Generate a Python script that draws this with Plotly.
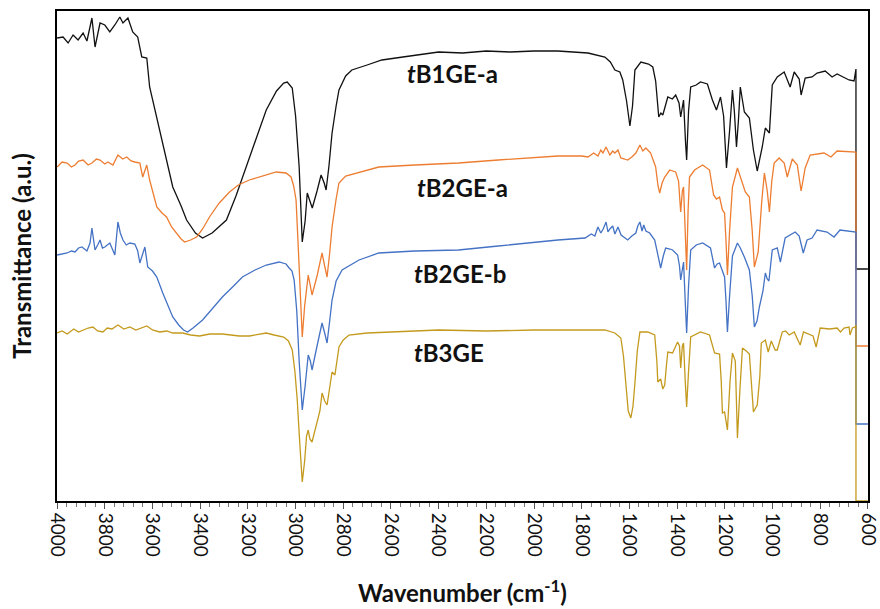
import plotly.graph_objects as go

# ---- data (wavenumber cm-1, transmittance a.u.) ----
wn_b1a = [4000,3975,3954,3933,3912,3891,3875,3854,3841,3820,3800,3779,3758,3737,3724,3703,3683,3662,3645,3624,3612,3582,3557,3515,3480,3457,3420,3390,3350,3290,3250,3206,3160,3123,3080,3050,3035,3014,3000,2985,2972,2960,2951,2940,2930,2910,2893,2880,2872,2860,2847,2830,2818,2790,2764,2700,2638,2550,2480,2400,2300,2200,2100,2000,1900,1800,1774,1703,1680,1661,1640,1628,1612,1598,1587,1577,1552,1520,1502,1490,1477,1468,1460,1439,1420,1406,1392,1385,1373,1365,1360,1352,1343,1320,1302,1273,1252,1235,1218,1205,1193,1180,1168,1160,1151,1143,1135,1118,1097,1080,1064,1043,1030,1013,1001,980,951,926,909,888,880,863,834,813,779,750,729,679,658,650,650,600]
t_b1a = [46.3,46.4,45.8,46.6,46.1,46.8,46.0,48.3,45.4,47.8,47.6,46.9,47.6,48.4,47.8,48.3,46.9,46.4,44.4,44.3,41.4,38.4,35.8,31.4,29.5,28.1,26.8,26.3,26.8,28.1,30.5,33.4,36.6,39.1,41.0,41.8,41.9,41.3,38.5,33.4,25.9,28.0,30.8,30.0,29.3,31.0,32.6,31.8,31.1,33.5,36.8,39.5,41.1,42.5,43.1,43.6,44.1,44.4,44.6,44.9,44.8,45.0,44.9,45.0,45.0,44.9,44.8,44.4,43.9,43.1,42.9,42.1,40.0,37.5,39.5,43.1,43.9,43.7,43.4,42.0,38.4,38.8,38.6,40.4,40.2,40.6,39.8,38.4,40.1,36.0,34.1,39.0,41.4,41.6,41.9,41.7,40.1,39.1,40.4,38.5,33.3,37.0,41.1,39.0,35.4,38.0,41.4,38.9,38.3,35.1,33.0,35.4,37.3,36.8,41.6,42.4,42.9,41.4,42.9,42.2,40.6,42.3,42.4,42.8,43.0,42.4,42.7,42.1,42.0,43.2,23.2,23.2]

wn_b2a = [4000,3979,3958,3940,3925,3910,3891,3870,3854,3835,3820,3800,3787,3766,3745,3725,3708,3690,3674,3653,3641,3624,3612,3582,3560,3541,3520,3499,3480,3465,3440,3415,3390,3361,3320,3277,3240,3194,3140,3081,3040,3027,3019,3008,2998,2988,2980,2972,2962,2947,2938,2931,2910,2889,2878,2868,2857,2847,2830,2818,2790,2747,2651,2500,2317,2150,2037,1900,1800,1774,1750,1732,1720,1711,1698,1682,1670,1661,1648,1636,1620,1607,1590,1573,1556,1544,1531,1520,1511,1490,1480,1473,1463,1452,1431,1406,1394,1385,1378,1373,1365,1360,1354,1348,1327,1293,1264,1247,1235,1222,1210,1201,1195,1189,1180,1168,1147,1135,1114,1097,1085,1076,1060,1045,1034,1022,1013,1003,993,972,951,938,917,896,880,863,842,784,755,729,654,650,650,600]
t_b2a = [33.4,33.9,33.8,33.4,33.6,34.0,34.1,33.6,33.8,34.2,34.1,33.7,33.9,33.6,34.6,34.2,34.4,34.0,33.9,33.8,32.4,33.6,32.1,29.4,28.8,28.4,27.4,26.8,26.2,25.9,26.1,26.4,27.2,28.4,29.8,30.9,31.6,32.1,32.5,32.9,32.8,32.6,32.4,31.5,30.1,25.0,20.0,16.4,19.5,22.6,21.5,20.6,22.5,24.8,23.5,22.4,24.8,27.4,30.2,31.8,32.5,32.8,33.4,33.6,33.8,34.1,34.3,34.5,34.5,34.4,34.8,34.5,35.1,34.8,35.4,34.6,35.0,34.8,35.1,34.3,34.2,34.1,34.4,34.8,35.6,35.0,35.3,35.0,34.8,33.4,31.5,30.8,31.8,32.4,33.1,32.9,32.0,28.9,31.0,31.4,27.0,23.1,29.0,32.4,33.1,33.6,33.1,30.6,30.2,30.4,29.1,28.8,26.0,22.6,27.0,31.4,33.3,32.4,30.9,30.4,27.0,23.4,24.9,30.0,32.8,31.0,28.9,32.0,33.8,34.3,33.8,32.4,34.2,33.6,31.0,33.3,34.6,34.8,34.4,35.0,34.9,34.9,15.5,15.5]

wn_b2b = [4000,3979,3958,3940,3925,3910,3896,3875,3862,3854,3841,3830,3820,3810,3800,3779,3766,3758,3745,3735,3724,3710,3695,3674,3662,3653,3632,3620,3600,3582,3557,3535,3515,3490,3470,3453,3430,3390,3350,3307,3260,3223,3170,3123,3069,3040,3027,3015,3006,2995,2985,2972,2960,2947,2938,2931,2910,2889,2878,2868,2857,2847,2830,2805,2734,2651,2500,2317,2150,2037,1900,1786,1760,1745,1732,1720,1710,1698,1690,1682,1670,1661,1648,1635,1620,1607,1590,1573,1565,1556,1547,1540,1531,1515,1494,1480,1469,1458,1448,1430,1419,1398,1390,1385,1378,1373,1366,1360,1352,1343,1320,1293,1260,1243,1232,1222,1210,1201,1195,1189,1180,1168,1147,1135,1118,1097,1085,1076,1065,1055,1040,1030,1022,1015,1001,980,967,955,947,905,888,871,855,834,813,771,742,717,654,650,650,600]
t_b2b = [24.6,24.7,24.8,25.0,24.9,25.3,25.4,25.0,25.8,27.3,25.1,25.6,26.1,25.3,25.4,25.8,25.0,24.6,27.9,26.8,26.1,25.6,25.8,25.7,25.0,23.8,25.4,23.4,23.0,22.4,20.8,19.6,18.4,17.6,17.1,16.9,17.3,18.1,19.2,20.4,21.5,22.4,23.1,23.6,23.9,23.7,23.3,23.0,22.1,19.0,14.0,9.1,11.5,14.6,14.0,13.1,15.5,17.8,16.8,15.8,18.0,20.1,22.0,23.1,24.1,24.8,25.0,25.1,25.5,25.8,26.1,26.3,26.7,26.5,27.4,26.8,27.2,27.9,26.9,27.2,27.5,26.7,27.4,26.6,26.3,26.1,26.5,26.8,27.5,27.9,27.0,27.6,27.0,26.8,26.1,24.5,23.3,24.5,25.3,25.2,25.1,24.6,23.5,22.1,23.5,23.9,20.0,16.8,21.5,25.1,25.6,25.8,25.3,23.3,23.7,23.8,23.0,22.4,20.0,16.9,20.5,24.5,25.8,25.3,24.4,23.1,20.5,17.4,18.0,19.4,21.0,22.8,22.2,22.0,25.1,25.3,23.9,25.5,26.3,26.9,26.5,24.8,26.1,26.3,27.1,26.9,26.4,27.1,26.9,26.9,7.7,7.7]

wn_b3 = [4000,3979,3958,3946,3930,3910,3891,3870,3850,3830,3808,3790,3770,3745,3720,3695,3670,3645,3624,3600,3570,3540,3515,3474,3440,3403,3360,3307,3260,3236,3194,3150,3123,3090,3069,3050,3030,3014,3003,2993,2983,2972,2962,2954,2947,2940,2931,2920,2910,2898,2889,2878,2868,2857,2847,2835,2828,2818,2800,2776,2700,2600,2400,2200,2000,1800,1703,1661,1636,1625,1615,1605,1594,1585,1577,1567,1556,1523,1494,1485,1481,1469,1460,1452,1445,1439,1419,1398,1390,1385,1378,1373,1366,1360,1352,1343,1302,1264,1243,1222,1215,1210,1201,1189,1178,1168,1156,1147,1137,1126,1110,1097,1080,1064,1053,1047,1030,1018,1005,989,980,959,945,930,909,884,870,850,830,817,800,760,742,729,715,700,679,675,665,654,650,650,600]
t_b3 = [16.8,17.0,16.7,16.9,17.2,16.9,17.1,17.3,17.4,17.0,16.9,17.3,17.2,17.6,17.2,17.4,17.1,17.3,17.5,17.1,16.9,17.0,16.8,16.8,16.6,16.5,16.7,16.7,16.6,16.5,16.5,16.7,16.8,16.6,16.5,16.4,16.0,15.1,13.0,10.1,6.0,1.9,4.0,6.5,7.1,6.2,5.9,7.0,8.1,9.0,10.8,10.0,9.6,11.5,12.9,12.6,14.0,15.4,16.1,16.6,16.8,16.9,17.1,17.0,17.1,17.1,17.1,16.8,16.3,14.5,11.4,9.0,8.3,9.5,11.8,15.0,16.9,16.9,16.6,14.0,11.9,12.2,11.2,11.6,13.5,14.9,14.8,15.9,15.5,13.3,15.5,15.8,12.0,9.4,13.0,16.4,16.9,16.6,14.8,14.7,12.0,8.8,8.9,7.1,12.0,14.8,14.0,6.3,11.0,15.3,15.0,14.7,8.9,9.6,12.5,15.8,16.1,14.9,16.0,15.1,15.1,16.9,17.0,16.6,16.9,15.6,16.9,16.7,16.5,15.4,17.3,17.2,17.3,17.3,16.9,17.3,17.4,16.6,17.3,17.4,17.6,0.0,0.0]

series_names = ["tB1GE-a", "tB2GE-a", "tB2GE-b", "tB3GE"]
label_text = ["<b><i>t</i>B1GE-a</b>", "<b><i>t</i>B2GE-a</b>", "<b><i>t</i>B2GE-b</b>", "<b><i>t</i>B3GE</b>"]
label_x = [2342, 2302, 2312, 2358]
label_y = [42.8, 31.4, 22.8, 14.9]
colors = ["#111111", "#ED7D31", "#4472C4", "#C49A1E"]

tick_vals = list(range(4000, 599, -200))
tick_text = [str(v) for v in tick_vals]

xs = [wn_b1a, wn_b2a, wn_b2b, wn_b3]
ys = [t_b1a, t_b2a, t_b2b, t_b3]

fig = go.Figure()
for name, x, y, c in zip(series_names, xs, ys, colors):
    fig.add_trace(go.Scatter(x=x, y=y, mode="lines", name=name,
                             line=dict(color=c, width=1.3), showlegend=False))

for t, x, y in zip(label_text, label_x, label_y):
    fig.add_annotation(x=x, y=y, text=t, showarrow=False,
                       font=dict(family="Lato", size=24, color="#111111"))

fig.update_layout(
    width=880, height=609,
    margin=dict(l=57, r=12, t=11, b=108),
    paper_bgcolor="white", plot_bgcolor="white",
    font=dict(family="Lato", color="#111111"),
    xaxis=dict(range=[4000.5, 599.5], tickmode="array",
               tickvals=tick_vals, ticktext=tick_text,
               showgrid=False, zeroline=False, automargin=False,
               showline=True, linecolor="black", linewidth=2, mirror=True,
               ticks="outside", ticklen=6, tickwidth=1, tickcolor="#555555",
               minor=dict(tickmode="linear", tick0=600, dtick=40, ticks="outside",
                          ticklen=4, tickcolor="#777777"),
               ticklabeloverflow="allow",
               tickangle=90, tickfont=dict(family="Lato", size=19, color="#111111"),
               title=dict(text="<b>Wavenumber (cm<sup>-1</sup>)</b>", standoff=29,
                          font=dict(family="Lato", size=24, color="#111111"))),
    yaxis=dict(range=[0, 49], showgrid=False, zeroline=False, showticklabels=False,
               automargin=False,
               ticks="", showline=True, linecolor="black", linewidth=2, mirror=True,
               title=dict(text="<b>Transmittance (a.u.)</b>", standoff=17,
                          font=dict(family="Lato", size=24, color="#111111"))),
)

fig.write_html("out.html")
